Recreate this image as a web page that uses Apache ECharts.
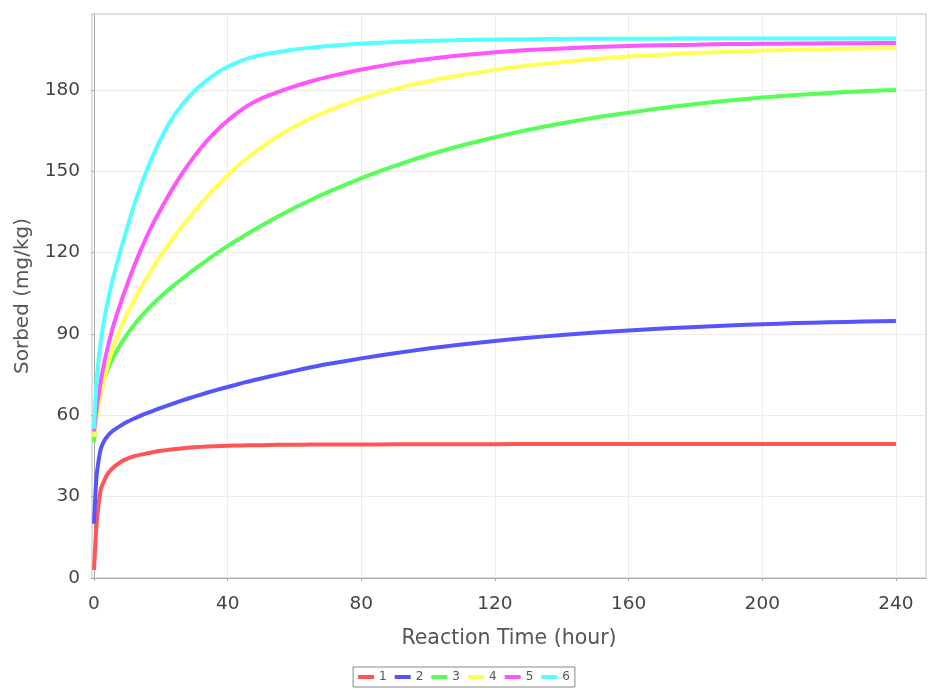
<!DOCTYPE html>
<html>
<head>
<meta charset="utf-8">
<script src="https://cdn.jsdelivr.net/npm/echarts@6/dist/echarts.min.js"></script>
<style>
html,body{margin:0;padding:0;background:#fff;}
#chart{width:928px;height:689px;}
</style>
</head>
<body>
<div id="chart"></div>
<script>
const times = [0, 0.5, 1, 2, 3, 4, 5, 6, 8, 10, 12, 14, 16, 18, 20, 23, 26, 30, 34, 38, 42, 46, 50, 55, 60, 65, 70, 80, 90, 100, 110, 120, 130, 140, 150, 160, 170, 180, 190, 200, 210, 220, 230, 240];
const seriesNames = ['1', '2', '3', '4', '5', '6'];
const s1 = [3, 15, 23, 32.5, 35.8, 38.2, 39.8, 41, 42.8, 44, 44.9, 45.5, 46, 46.5, 46.9, 47.4, 47.8, 48.2, 48.5, 48.7, 48.85, 48.95, 49, 49.1, 49.15, 49.2, 49.2, 49.25, 49.3, 49.3, 49.35, 49.35, 49.4, 49.4, 49.4, 49.4, 49.4, 49.4, 49.4, 49.4, 49.4, 49.4, 49.4, 49.4];
const s2 = [20, 33, 40, 47.5, 50.5, 52.3, 53.6, 54.6, 56.2, 57.6, 58.8, 59.9, 60.9, 61.8, 62.7, 64, 65.3, 66.9, 68.4, 69.8, 71.1, 72.4, 73.6, 75, 76.4, 77.7, 78.9, 81, 82.9, 84.6, 86.1, 87.4, 88.6, 89.6, 90.5, 91.3, 92, 92.6, 93.1, 93.6, 94, 94.3, 94.6, 94.8];
const s3 = [50, 58, 62.5, 68.5, 73, 76.5, 79.5, 82, 86.3, 90, 93.3, 96.3, 99, 101.5, 103.8, 107, 110, 113.8, 117.4, 120.8, 124, 127, 129.9, 133.3, 136.5, 139.5, 142.3, 147.5, 152, 156, 159.5, 162.6, 165.3, 167.7, 169.8, 171.6, 173.3, 174.8, 176.1, 177.2, 178.1, 178.9, 179.5, 180];
const s4 = [52, 57, 61, 67.5, 73, 78, 82.3, 86, 92.3, 97.7, 102.5, 107, 111.2, 115.2, 119, 124.2, 129.1, 135.2, 140.9, 146.2, 150.8, 155, 158.7, 162.9, 166.5, 169.6, 172.3, 176.8, 180.3, 183.2, 185.5, 187.4, 189, 190.3, 191.4, 192.3, 193, 193.6, 194.1, 194.5, 194.8, 195.1, 195.3, 195.5];
const s5 = [54, 59.5, 64.5, 72.5, 79, 84.5, 89.5, 94, 101.5, 108.5, 115, 121, 126.5, 131.5, 136, 142.5, 148.5, 155.5, 161.5, 166.5, 170.7, 174.2, 176.8, 179.2, 181.3, 183.2, 184.8, 187.5, 189.7, 191.4, 192.8, 193.9, 194.7, 195.3, 195.8, 196.2, 196.5, 196.7, 196.9, 197, 197.1, 197.2, 197.25, 197.3];
const s6 = [55, 67, 76, 87, 95, 101.5, 107, 112, 121, 129.5, 137.5, 144.5, 151, 156.8, 162, 168.7, 174, 179.5, 183.8, 187.2, 189.7, 191.6, 192.9, 194, 194.9, 195.6, 196.2, 197.1, 197.7, 198.1, 198.4, 198.6, 198.7, 198.8, 198.85, 198.9, 198.9, 198.95, 199, 199, 199, 199, 199, 199];
const xTicks = [0, 40, 80, 120, 160, 200, 240];
const yTicks = [0, 30, 60, 90, 120, 150, 180];
const colors = ['#ff5555', '#5555ff', '#55ff55', '#ffff55', '#ff55ff', '#55ffff'];

const allSeries = [s1, s2, s3, s4, s5, s6];
const chart = echarts.init(document.getElementById('chart'));
const font = 'DejaVu Sans';
chart.setOption({
  animation: false,
  backgroundColor: '#fff',
  color: colors,
  grid: { left: 92, right: 2, top: 14, bottom: 111, show: true, borderColor: '#c0c0c0', borderWidth: 1 },
  legend: {
    bottom: 2, left: 'center', icon: 'rect', itemWidth: 16, itemHeight: 4, itemGap: 8,
    borderColor: '#888', borderWidth: 1, padding: [4, 5],
    textStyle: { fontFamily: font, fontSize: 12, color: '#555' },
    data: seriesNames
  },
  xAxis: {
    type: 'value', min: -0.6, max: 249, interval: 40, offset: 4,
    name: 'Reaction Time (hour)', nameLocation: 'middle', nameGap: 46,
    nameTextStyle: { fontFamily: font, fontSize: 20.5, color: '#555' },
    axisLine: { show: true, lineStyle: { color: '#aaa' } },
    axisTick: { show: true, length: 3, lineStyle: { color: '#aaa' }, customValues: xTicks },
    axisLabel: { fontFamily: font, fontSize: 18.5, color: '#444', margin: 13, customValues: xTicks },
    splitLine: { show: true, lineStyle: { color: '#ececec' } }
  },
  yAxis: {
    type: 'value', min: 0, max: 208, interval: 30, offset: 4,
    name: 'Sorbed (mg/kg)', nameLocation: 'middle', nameGap: 55,
    nameTextStyle: { fontFamily: font, fontSize: 20, color: '#555' },
    axisLine: { show: true, lineStyle: { color: '#aaa' } },
    axisTick: { show: true, length: 3, lineStyle: { color: '#aaa' }, customValues: yTicks },
    axisLabel: { fontFamily: font, fontSize: 18.5, color: '#444', margin: 8, customValues: yTicks },
    splitLine: { show: true, lineStyle: { color: '#ececec' } }
  },
  series: allSeries.map((d, i) => ({
    name: seriesNames[i], type: 'line', showSymbol: false, symbol: 'none',
    smooth: 0.2,
    lineStyle: { width: 4, color: colors[i] },
    data: times.map((t, j) => [t, d[j]])
  }))
});
</script>
</body>
</html>
